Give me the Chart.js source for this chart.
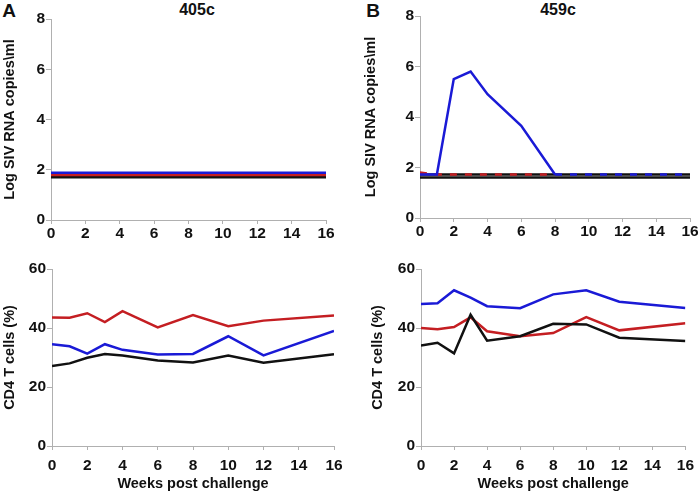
<!DOCTYPE html>
<html><head><meta charset="utf-8">
<script src="https://cdn.jsdelivr.net/npm/chart.js@4/dist/chart.umd.min.js"></script>
<style>
body{margin:0;background:#fff;width:700px;height:494px;position:relative;overflow:hidden;font-family:"Liberation Sans",Arial,sans-serif}
canvas{position:absolute;left:0;top:0}
.lbl{position:absolute;font-weight:bold;color:#111;transform:translate(-50%,-50%);white-space:nowrap;line-height:1}
</style></head><body>
<div class="lbl" style="left:9px;top:10px;font-size:19px">A</div>
<div class="lbl" style="left:373px;top:10px;font-size:19px">B</div>
<div class="lbl" style="left:197px;top:10px;font-size:16px">405c</div>
<div class="lbl" style="left:558px;top:10px;font-size:16px">459c</div>
<canvas id="c1" width="700" height="494"></canvas>
<canvas id="c2" width="700" height="494"></canvas>
<canvas id="c3" width="700" height="494"></canvas>
<canvas id="c4" width="700" height="494"></canvas>
<script>
// ---- data ----
const weeks = [0, 1, 2, 3, 4, 6, 8, 10, 12, 16];
const xTicks = [0, 2, 4, 6, 8, 10, 12, 14, 16];
const vlTicks = [0, 2, 4, 6, 8];
const cd4Ticks = [0, 20, 40, 60];

const vl405Blue  = [1.88, 1.88, 1.88, 1.88, 1.88, 1.88, 1.88, 1.88, 1.88, 1.88];
const vl405Red   = [1.79, 1.79, 1.79, 1.79, 1.79, 1.79, 1.79, 1.79, 1.79, 1.79];
const vl405Black = [1.70, 1.70, 1.70, 1.70, 1.70, 1.70, 1.70, 1.70, 1.70, 1.70];

const vl459Blue  = [1.72, 1.72, 5.5, 5.8, 4.9, 3.65, 1.72, 1.72, 1.72, 1.72];
const vl459Red   = [1.80, 1.72, 1.72, 1.72, 1.72, 1.72, 1.72, null, null, null];
const vl459Base  = [1.72, 1.72, 1.72, 1.72, 1.72, 1.72, 1.72, 1.72, 1.72, 1.72];
const vl459Black = [1.60, 1.60, 1.60, 1.60, 1.60, 1.60, 1.60, 1.60, 1.60, 1.60];

const cd4405Red   = [43.6, 43.5, 45.0, 42.0, 45.7, 40.2, 44.4, 40.6, 42.5, 44.2];
const cd4405Blue  = [34.5, 33.8, 31.3, 34.5, 32.6, 31.0, 31.2, 37.2, 30.7, 39.0];
const cd4405Black = [27.1, 28.0, 29.9, 31.2, 30.7, 29.0, 28.3, 30.7, 28.2, 31.1];

const cd4459Blue  = [48.1, 48.4, 52.8, 50.3, 47.4, 46.7, 51.4, 52.8, 48.9, 46.8];
const cd4459Red   = [40.0, 39.6, 40.3, 43.6, 38.9, 37.2, 38.3, 43.7, 39.2, 41.6];
const cd4459Black = [34.1, 35.0, 31.4, 44.5, 35.7, 37.2, 41.4, 41.2, 36.7, 35.6];

// ---- styling ----
const BLUE = '#1a1ad6', RED = '#c41e22', BLACK = '#111111', AXIS = '#b0b0b0';
const FONT = '"Liberation Sans", Arial, sans-serif';

function pts(vals) { return weeks.map((w, i) => ({x: w, y: vals[i]})); }
function ds(vals, color, extra) {
  return Object.assign({data: pts(vals), borderColor: color, borderWidth: 2.5,
    pointRadius: 0, tension: 0, fill: false, spanGaps: false}, extra || {});
}

function makeChart(id, a, yTicks, yTitle, xTitle, datasets) {
  const yMax = yTicks[yTicks.length - 1];
  new Chart(document.getElementById(id), {
    type: 'line',
    data: {datasets: datasets},
    options: {
      responsive: false, animation: false, events: [],
      layout: {padding: {left: a.sl, top: a.t, right: 700 - a.r, bottom: 494 - a.b - a.xh}},
      plugins: {legend: {display: false}, tooltip: {enabled: false}, title: {display: false}},
      scales: {
        x: {
          type: 'linear', min: 0, max: 16,
          afterBuildTicks: s => { s.ticks = xTicks.map(v => ({value: v})); },
          afterFit: s => { s.height = a.xh; },
          grid: {drawOnChartArea: false, drawTicks: true, tickLength: 4, color: AXIS},
          border: {color: AXIS, width: 1},
          ticks: {padding: a.xp, color: '#111', font: {family: FONT, size: 15.5, weight: 'bold'}, maxRotation: 0},
          title: {display: !!xTitle, text: xTitle, padding: 0, color: '#111',
                  font: {family: FONT, size: 14.5, weight: 'bold', lineHeight: 1.2}}
        },
        y: {
          min: 0, max: yMax,
          afterBuildTicks: s => { s.ticks = yTicks.map(v => ({value: v})); },
          afterFit: s => { s.width = a.l - a.sl; },
          grid: {drawOnChartArea: false, drawTicks: true, tickLength: 5, color: AXIS},
          border: {color: AXIS, width: 1},
          ticks: {padding: a.yp, color: '#111', font: {family: FONT, size: 15.5, weight: 'bold'}},
          title: {display: true, text: yTitle, padding: 0, color: '#111',
                  font: {family: FONT, size: 14.5, weight: 'bold', lineHeight: 1.2}}
        }
      }
    }
  });
}

// dataset 0 is drawn on top
makeChart('c1', {sl: 1, l: 51, t: 19, r: 326, b: 220, xh: 20, xp: 0, yp: 1},
  vlTicks, 'Log SIV RNA copies\\ml', '',
  [ds(vl405Blue, BLUE), ds(vl405Red, RED), ds(vl405Black, BLACK)]);

makeChart('c2', {sl: 362, l: 420, t: 16, r: 690, b: 218, xh: 20, xp: 0, yp: 1},
  vlTicks, 'Log SIV RNA copies\\ml', '',
  [ds(vl459Blue, BLUE, {segment: {borderDash: c => c.p0DataIndex >= 6 ? [7, 8] : undefined}}),
   ds(vl459Red, RED, {borderDash: [7, 8]}),
   ds(vl459Base, BLACK), ds(vl459Black, BLACK)]);

makeChart('c3', {sl: 1, l: 52, t: 269, r: 334, b: 446, xh: 47, xp: 6, yp: 1},
  cd4Ticks, 'CD4 T cells (%)', 'Weeks post challenge',
  [ds(cd4405Red, RED), ds(cd4405Blue, BLUE), ds(cd4405Black, BLACK)]);

makeChart('c4', {sl: 369, l: 421, t: 269, r: 690, b: 446, xh: 47, xp: 6, yp: 1},
  cd4Ticks, 'CD4 T cells (%)', 'Weeks post challenge',
  [ds(cd4459Black, BLACK), ds(cd4459Blue, BLUE), ds(cd4459Red, RED)]);
</script>
</body></html>
